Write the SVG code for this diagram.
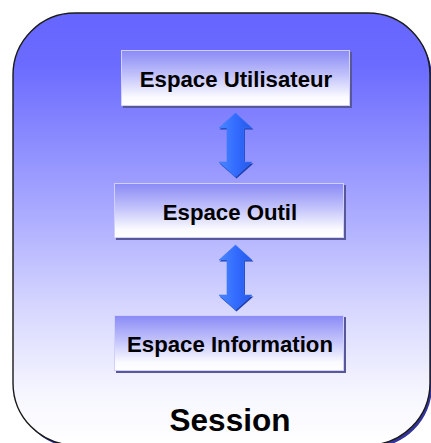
<svg xmlns="http://www.w3.org/2000/svg" width="431" height="443" viewBox="0 0 431 443">
  <defs>
    <linearGradient id="bgGrad" x1="0" y1="13" x2="0" y2="445" gradientUnits="userSpaceOnUse">
      <stop offset="0" stop-color="#6666ff"/>
      <stop offset="0.12" stop-color="#6b6bff"/>
      <stop offset="0.45" stop-color="#a8a8ff"/>
      <stop offset="0.68" stop-color="#d6d6ff"/>
      <stop offset="0.88" stop-color="#f6f6ff"/>
      <stop offset="1" stop-color="#ffffff"/>
    </linearGradient>
    <linearGradient id="boxGrad" x1="0" y1="0" x2="0" y2="1">
      <stop offset="0" stop-color="#8a8af6"/>
      <stop offset="0.45" stop-color="#c2c2fb"/>
      <stop offset="0.85" stop-color="#fafaff"/>
      <stop offset="1" stop-color="#ffffff"/>
    </linearGradient>
    <linearGradient id="arrowGrad" x1="0" y1="0" x2="1" y2="0">
      <stop offset="0" stop-color="#4a88ff"/>
      <stop offset="0.5" stop-color="#336cff"/>
      <stop offset="1" stop-color="#2458e6"/>
    </linearGradient>
    <style>
      .box { fill: url(#boxGrad); stroke: #d0d0ff; stroke-width: 1; }
      .boxShadow { fill: #57579a; }
      .label { font-family: "Liberation Sans", Arial, sans-serif; font-weight: bold; font-size: 22.2px; fill: #000000; text-anchor: middle; }
      .title { font-family: "Liberation Sans", Arial, sans-serif; font-weight: bold; font-size: 31.5px; fill: #000000; text-anchor: middle; }
      .arrow { fill: url(#arrowGrad); stroke: #3d78ff; stroke-width: 0.6; }
      .arrowShadow { fill: #2040b0; }
    </style>
  </defs>

  <g id="session">
    <path d="M76,16 H370 A62,62 0 0 1 432,78 V386 A62,62 0 0 1 370,448 H76 A62,62 0 0 1 16,386 V78 Z" fill="#333399"/>
    <path d="M75,13 H368 A62,62 0 0 1 430,75 V383 A62,62 0 0 1 368,445 H75 A62,62 0 0 1 13,383 V75 A62,62 0 0 1 75,13 Z" fill="url(#bgGrad)" stroke="#1a1a1a" stroke-width="1.4"/>
    <text class="title" x="230" y="431">Session</text>
  </g>

  <g id="node-utilisateur">
    <rect class="boxShadow" x="123" y="52" width="229" height="56"/>
    <rect class="box" x="121.5" y="50.5" width="228" height="55"/>
    <text class="label" x="236" y="86.5">Espace Utilisateur</text>
  </g>

  <g id="node-outil">
    <rect class="boxShadow" x="116" y="185" width="230" height="55"/>
    <rect class="box" x="114.5" y="183.5" width="229" height="54"/>
    <text class="label" x="230" y="220">Espace Outil</text>
  </g>

  <g id="node-information">
    <rect class="boxShadow" x="116" y="317" width="230" height="56"/>
    <rect class="box" x="114.5" y="315.5" width="229" height="55"/>
    <text class="label" x="230" y="351.5">Espace Information</text>
  </g>

  <g id="connectors">
    <g id="arrow-1">
      <polygon class="arrowShadow" points="236.5,114.5 253.5,129.5 245,129.5 245,163.5 253.5,163.5 236.5,178.5 219.5,163.5 228,163.5 228,129.5 219.5,129.5"/>
      <polygon class="arrow" points="235.5,113 252,128 244,128 244,162 252,162 235.5,177 219,162 227,162 227,128 219,128"/>
    </g>
    <g id="arrow-2">
      <polygon class="arrowShadow" points="236.5,246.5 253.5,261.5 245,261.5 245,296.5 253.5,296.5 236.5,311.5 219.5,296.5 228,296.5 228,261.5 219.5,261.5"/>
      <polygon class="arrow" points="235.5,245 252,260 244,260 244,295 252,295 235.5,310 219,295 227,295 227,260 219,260"/>
    </g>
  </g>
</svg>
